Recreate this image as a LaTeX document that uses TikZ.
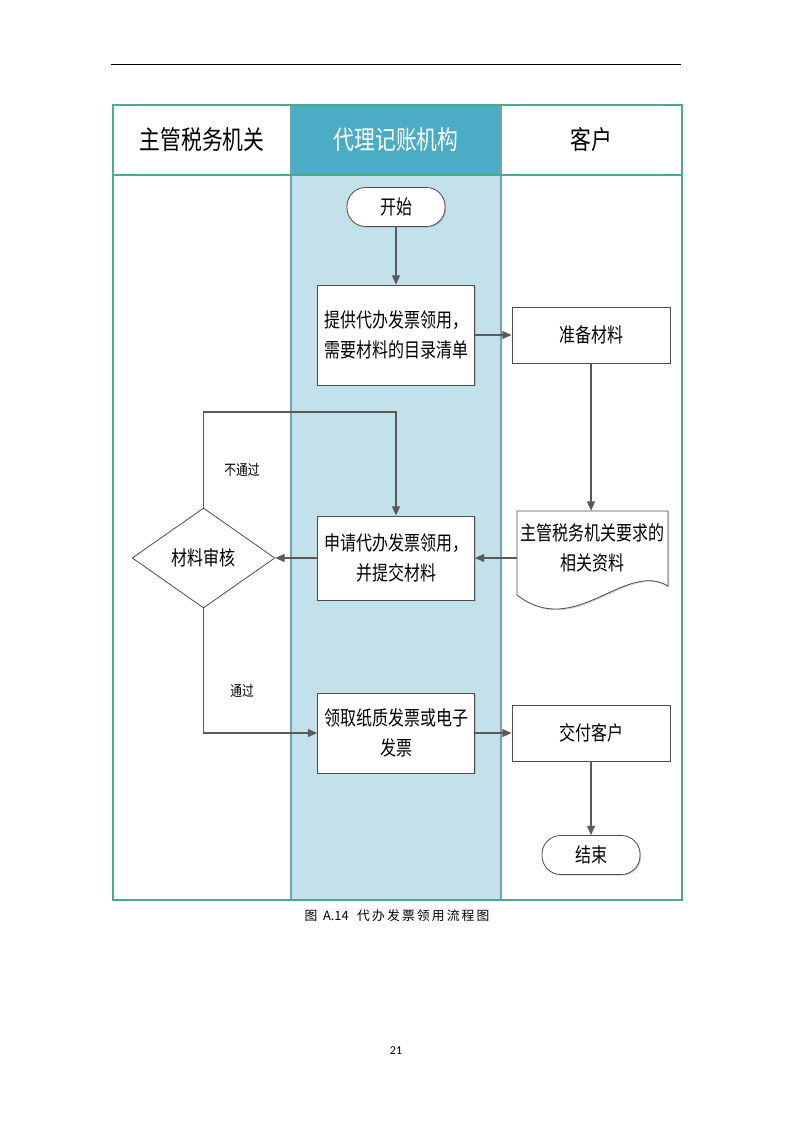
\documentclass[tikz,border=0pt]{standalone}
\usepackage{fontspec}
\usepackage{tikz}
\usetikzlibrary{shapes.geometric,arrows.meta,shadows}
\setmainfont{Carlito}
\newfontfamily\cjk{Noto Sans CJK SC}[FakeStretch=0.8]
\newfontfamily\cjkcap{Noto Sans CJK SC}
\definecolor{framegreen}{HTML}{4DAA88}
\definecolor{laneblue}{HTML}{6FA3B5}
\definecolor{headblue}{HTML}{4BACC6}
\definecolor{lanefill}{HTML}{C2E1EA}
\definecolor{arrowgray}{HTML}{5A5A5A}

\begin{document}
\begin{tikzpicture}[x=0.75pt,y=-0.75pt,
    box/.style={draw=black!70,fill=white,line width=0.6pt,align=center,
        minimum width=117.75pt,inner sep=2pt,
        font=\cjk\fontsize{15}{22.5}\selectfont,
        drop shadow={shadow xshift=0.9pt,shadow yshift=-0.9pt,opacity=0.35}},
    term/.style={box,rounded corners=14pt,minimum width=73.5pt,minimum height=29.25pt},
    arr/.style={draw=arrowgray,line width=0.9pt,-{Triangle[length=7pt,width=6pt]}},
    lbl/.style={font=\cjk\fontsize{11}{13}\selectfont}]
    \useasboundingbox (0,0) rectangle (794,1123);
    \draw [line width=0.6pt] (111,64) -- (681,64);
    % lanes
    \path [fill=lanefill] (291,175) rectangle (501,900);
    \path [fill=headblue] (291,105) rectangle (501,175);
    \draw [laneblue,line width=0.8pt] (291,105) -- (291,900);
    \draw [laneblue,line width=0.8pt] (501,105) -- (501,900);
    \draw [framegreen,line width=1.2pt] (113,105) rectangle (682,900);
    \draw [framegreen,line width=1.2pt] (113,175) -- (682,175);
    \node [font=\cjk\fontsize{19.5}{22}\selectfont] (hTax) at (202,140) {主管税务机关};
    \node [font=\cjk\fontsize{19.5}{22}\selectfont,text=white] (hAgent) at (396,140) {代理记账机构};
    \node [font=\cjk\fontsize{19.5}{22}\selectfont] (hClient) at (591,140) {客户};
    % steps
    \node [term] (start) at (396,207) {开始};
    \node [box,minimum height=75pt] (list) at (396,335) {提供代办发票领用，\\需要材料的目录清单};
    \node [box,minimum width=118.5pt,minimum height=42pt] (prep) at (591,335) {准备材料};
    \draw [draw=black!70,fill=white,line width=0.6pt,
        drop shadow={shadow xshift=0.9pt,shadow yshift=-0.9pt,opacity=0.35}]
        (517,511) -- (668,511) -- (668,586) .. controls (625,560) and (575,640) .. (517,595) -- cycle;
    \node [align=center,minimum width=113.25pt,minimum height=55.5pt,inner sep=0pt,
        font=\cjk\fontsize{15}{22.5}\selectfont] (docs) at (592.5,548) {主管税务机关要求的\\相关资料};
    \node [box,minimum height=63pt] (apply) at (396,558) {申请代办发票领用，\\并提交材料};
    \node [diamond,draw=black!70,fill=white,line width=0.6pt,minimum width=107pt,minimum height=75pt,
        inner sep=0pt,font=\cjk\fontsize{15}{22.5}\selectfont] (check) at (203.5,558) {材料审核};
    \node [box,minimum height=60pt] (fetch) at (396,733) {领取纸质发票或电子\\发票};
    \node [box,minimum width=118.5pt,minimum height=42pt] (deliver) at (591,733) {交付客户};
    \node [term] (end) at (591,855) {结束};
    % connectors
    \coordinate (loop) at (396,412);
    \draw [arr] (start) -- (list);
    \draw [arr] (list) -- (prep);
    \draw [arr] (prep) -- (prep |- docs.north);
    \draw [arr] (apply.east -| docs.west) -- (apply.east);
    \draw [arr] (apply) -- (check);
    \draw [arr] (check.north) |- (loop) -- (apply.north);
    \draw [arr] (check.south) |- (fetch.west);
    \draw [arr] (fetch) -- (deliver);
    \draw [arr] (deliver) -- (end);
    \node [lbl] (fail) at (242,470) {不通过};
    \node [lbl] (pass) at (242,691) {通过};
    % caption and page
    \node [font=\cjkcap\fontsize{9.6}{11}\selectfont] (cap) at (397,916)
        {图\ \ A.14\ \ \ 代\,办\,发\,票\,领\,用\,流\,程\,图};
    \node [font=\fontsize{9}{11}\selectfont] (page) at (396,1051) {21};
\end{tikzpicture}
\end{document}
